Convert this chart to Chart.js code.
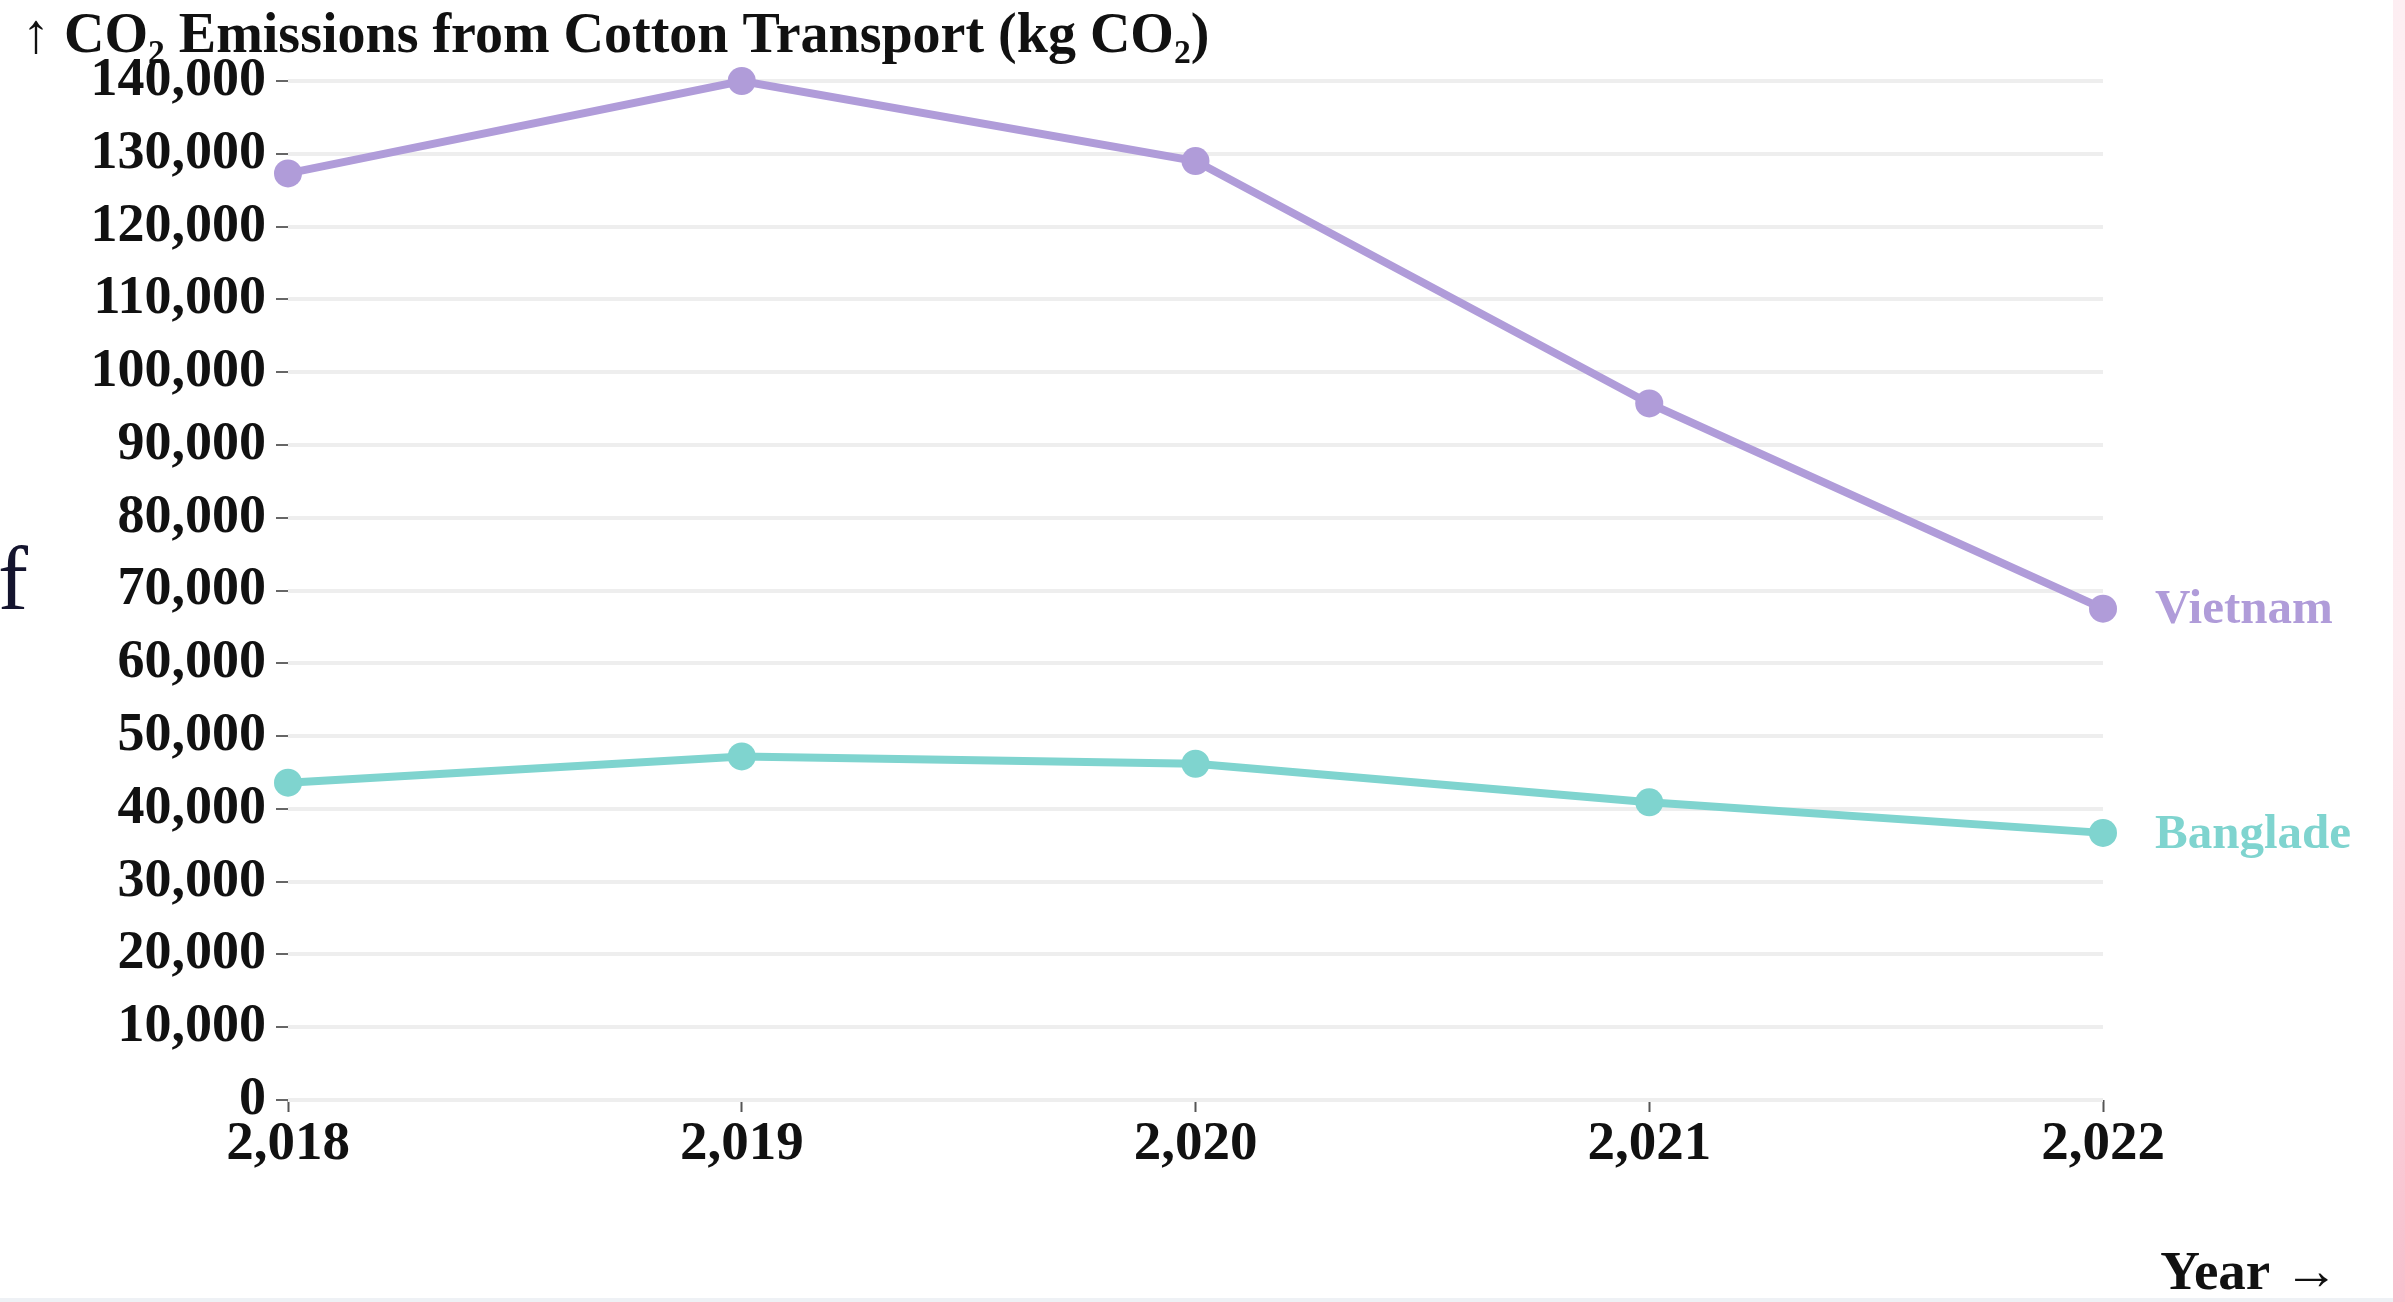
<!DOCTYPE html>
<html>
<head>
<meta charset="utf-8">
<script src="https://cdn.jsdelivr.net/npm/chart.js@4.4.1/dist/chart.umd.min.js"></script>
<style>
  html, body { margin: 0; padding: 0; background: #ffffff; overflow: hidden; }
  #wrap { position: relative; width: 2405px; height: 1302px; }
  #chart { position: absolute; left: 0; top: 0; }
  #stray { position: absolute; left: -2px; top: 534px; font-family: "Liberation Serif", serif; font-size: 90px; color: #14142e; line-height: 1; }
  #edge { position: absolute; right: 0; top: 0; width: 12px; height: 1302px;
          background: linear-gradient(to bottom, #fdeef2 0%, #fdecf0 50%, #fbd0da 80%, #f8bfcd 100%); }
  #foot { position: absolute; left: 0; bottom: 0; width: 2393px; height: 4px; background: #eef1f5; }
</style>
</head>
<body>
<div id="wrap">
  <canvas id="chart" width="2405" height="1302"></canvas>
  <div id="stray">f</div>
  <div id="edge"></div>
  <div id="foot"></div>
</div>
<script>
// Emissions by year (kg CO2)
const years = [2018, 2019, 2020, 2021, 2022];
const vietnam = [127300, 140000, 129000, 95700, 67500];
const bangladesh = [43600, 47200, 46200, 40900, 36700];
const seriesNames = ['Vietnam', 'Banglade'];
const seriesColors = ['#b09cd9', '#7fd4cf'];
const yTicks = [0, 10000, 20000, 30000, 40000, 50000, 60000, 70000, 80000, 90000, 100000, 110000, 120000, 130000, 140000];

const serif = '"Liberation Serif", "Times New Roman", serif';
const fmt = v => Number(v).toLocaleString('en-US');

// Title, axis caption and end-of-line labels
const annotations = {
  id: 'annotations',
  afterDatasetsDraw(chart) {
    const ctx = chart.ctx;
    ctx.save();
    ctx.fillStyle = '#111111';
    ctx.font = 'bold 56px ' + serif;
    ctx.textBaseline = 'middle';
    ctx.textAlign = 'left';
    ctx.fillText('\u2191 CO\u2082 Emissions from Cotton Transport (kg CO\u2082)', 22, 38);
    ctx.textAlign = 'right';
    ctx.font = 'bold 55px ' + serif;
    ctx.fillText('Year \u2192', 2339, 1275);
    ctx.textAlign = 'left';
    chart.data.datasets.forEach((ds, i) => {
      const meta = chart.getDatasetMeta(i);
      const last = meta.data[meta.data.length - 1];
      ctx.fillStyle = ds.borderColor;
      ctx.font = 'bold 49px ' + serif;
      ctx.fillText(seriesNames[i], last.x + 52, last.y + 2);
    });
    ctx.restore();
  }
};

new Chart(document.getElementById('chart'), {
  type: 'line',
  data: {
    datasets: [
      { label: seriesNames[0], data: years.map((y, i) => ({ x: y, y: vietnam[i] })),
        borderColor: seriesColors[0], backgroundColor: seriesColors[0], clip: false },
      { label: seriesNames[1], data: years.map((y, i) => ({ x: y, y: bangladesh[i] })),
        borderColor: seriesColors[1], backgroundColor: seriesColors[1], clip: false }
    ]
  },
  options: {
    responsive: false,
    animation: false,
    layout: { padding: { left: 0, right: 302, top: 81, bottom: 0 } },
    elements: {
      line: { borderWidth: 8, tension: 0 },
      point: { radius: 14, borderWidth: 0, hoverRadius: 14 }
    },
    plugins: { legend: { display: false }, tooltip: { enabled: false }, title: { display: false } },
    scales: {
      x: {
        type: 'linear',
        min: years[0], max: years[years.length - 1],
        afterBuildTicks: s => { s.ticks = years.map(v => ({ value: v })); },
        afterFit: s => { s.height = 202; },
        border: { display: false },
        grid: { drawOnChartArea: false, drawTicks: true, tickLength: 12, tickColor: '#555555', tickWidth: 2 },
        ticks: { color: '#111111', font: { family: serif, size: 55, weight: 'bold' }, padding: 0,
                 maxRotation: 0, callback: v => fmt(v) }
      },
      y: {
        min: 0, max: 140000,
        afterBuildTicks: s => { s.ticks = yTicks.map(v => ({ value: v })); },
        afterFit: s => { s.width = 288; },
        border: { display: false },
        grid: { color: '#eeeeee', lineWidth: 4, tickLength: 12, tickColor: '#666666', tickWidth: 2 },
        ticks: { color: '#111111', font: { family: serif, size: 54, weight: 'bold' }, padding: 10,
                 callback: v => fmt(v) }
      }
    }
  },
  plugins: [annotations]
});
</script>
</body>
</html>
